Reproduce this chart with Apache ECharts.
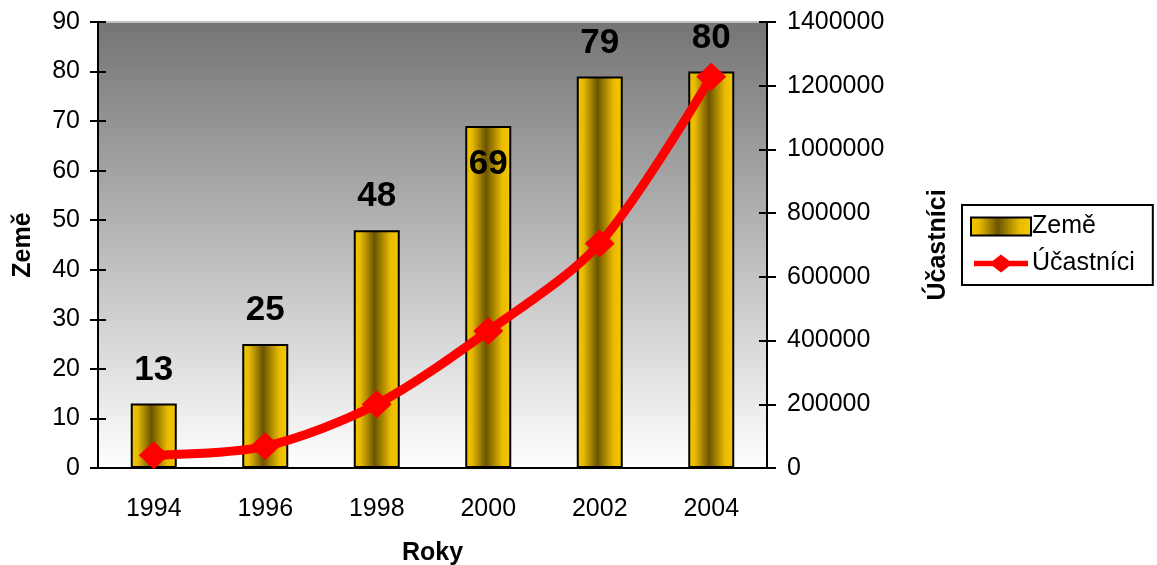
<!DOCTYPE html>
<html lang="cs">
<head>
    <meta charset="UTF-8">
    <title>Země a účastníci</title>
    <style>
        * { margin: 0; padding: 0; }
        html, body, #chart { width: 1157px; height: 565px; overflow: hidden; background: #fff; }
    </style>
</head>
<body>
    <div id="chart"></div>
    <script src="https://cdn.jsdelivr.net/npm/echarts@6/dist/echarts.min.js"></script>
    <script>
        // data
        const years = ['1994', '1996', '1998', '2000', '2002', '2004'];
        const zeme = [13, 25, 48, 69, 79, 80];
        const ucastnici = [40000, 68000, 200000, 430000, 705000, 1228000];
        const leftTicks = { min: 0, max: 90, interval: 10 };
        const rightTicks = { min: 0, max: 1400000, interval: 200000 };

        const font = 'Liberation Sans, Arial, sans-serif';

        const barFill = new echarts.graphic.LinearGradient(0, 0, 1, 0, [
            { offset: 0, color: '#f6c900' },
            { offset: 0.15, color: '#e6b900' },
            { offset: 0.45, color: '#6b5400' },
            { offset: 0.8, color: '#e8bb00' },
            { offset: 1, color: '#f6c900' }
        ]);

        const tickStyle = { color: '#000', width: 2 };
        const labelTxt = { fontFamily: font, fontSize: 25, color: '#000' };
        const nameTxt = { fontFamily: font, fontSize: 25, fontWeight: 'bold', color: '#000' };
        // legend icon for the line: thick stroke with a diamond in the middle
        const lineIcon = 'path://M0,7 L21,7 L30,0 L39,7 L60,7 L60,13 L39,13 L30,20 L21,13 L0,13 Z';

        let chart = echarts.init(document.getElementById('chart'));
        chart.setOption({
            animation: false,
            textStyle: { fontFamily: font },
            grid: {
                left: 98, right: 390, top: 22, bottom: 97,
                outerBoundsMode: 'none',
                containLabel: false,
                show: true,
                borderColor: '#c0c0c0',
                borderWidth: 2,
                backgroundColor: {
                    type: 'linear', x: 0, y: 0, x2: 0, y2: 1,
                    colorStops: [
                        { offset: 0, color: '#747474' },
                        { offset: 1, color: '#ffffff' }
                    ]
                }
            },
            legend: {
                orient: 'vertical',
                left: 962, top: 205,
                padding: [9, 18, 9, 8],
                itemGap: 12,
                itemWidth: 60, itemHeight: 18,
                borderColor: '#000', borderWidth: 2,
                backgroundColor: '#fff',
                textStyle: { fontFamily: font, fontSize: 25, color: '#000', padding: [0, 0, 0, -4] },
                data: [
                    { name: 'Země', icon: 'rect' },
                    { name: 'Účastníci', icon: lineIcon, itemStyle: { borderWidth: 0 } }
                ]
            },
            xAxis: [{
                type: 'category',
                data: years,
                name: 'Roky',
                nameLocation: 'middle',
                nameGap: 73,
                nameTextStyle: nameTxt,
                axisLine: { lineStyle: { color: '#000', width: 2 } },
                axisTick: { length: 9, lineStyle: tickStyle },
                axisLabel: Object.assign({ margin: 29 }, labelTxt)
            }, {
                type: 'category',
                data: years,
                position: 'bottom',
                axisLine: { show: false },
                axisTick: { inside: true, length: 9, lineStyle: tickStyle },
                axisLabel: { show: false }
            }],
            yAxis: [{
                type: 'value',
                min: leftTicks.min, max: leftTicks.max, interval: leftTicks.interval,
                name: 'Země',
                nameLocation: 'middle',
                nameGap: 62,
                nameTextStyle: nameTxt,
                axisLine: { show: true, lineStyle: { color: '#000', width: 2 } },
                axisTick: { show: true, length: 8, lineStyle: tickStyle },
                axisLabel: Object.assign({ margin: 18 }, labelTxt),
                splitLine: { show: false }
            }, {
                type: 'value',
                position: 'right',
                min: rightTicks.min, max: rightTicks.max, interval: rightTicks.interval,
                name: 'Účastníci',
                nameLocation: 'middle',
                nameGap: 159,
                nameRotate: 90,
                nameTextStyle: nameTxt,
                axisLine: { show: true, lineStyle: { color: '#000', width: 2 } },
                axisTick: { show: true, length: 9, lineStyle: tickStyle },
                axisLabel: Object.assign({ margin: 20, formatter: v => String(v) }, labelTxt),
                splitLine: { show: false }
            }, {
                type: 'value',
                position: 'left',
                min: leftTicks.min, max: leftTicks.max, interval: leftTicks.interval,
                axisLine: { show: false },
                axisTick: { show: true, inside: true, length: 8, lineStyle: tickStyle },
                axisLabel: { show: false },
                splitLine: { show: false }
            }, {
                type: 'value',
                position: 'right',
                min: rightTicks.min, max: rightTicks.max, interval: rightTicks.interval,
                axisLine: { show: false },
                axisTick: { show: true, inside: true, length: 8, lineStyle: tickStyle },
                axisLabel: { show: false },
                splitLine: { show: false }
            }],
            series: [{
                name: 'Země',
                type: 'bar',
                yAxisIndex: 0,
                barWidth: 46,
                itemStyle: { color: barFill, borderColor: '#000', borderWidth: 2 },
                label: {
                    show: true,
                    position: 'top',
                    distance: 16,
                    fontFamily: font,
                    fontSize: 35,
                    fontWeight: 'bold',
                    color: '#000'
                },
                data: zeme.map((v, i) => i === 3
                    ? { value: v, label: { position: 'insideTop', distance: 21 } }
                    : v)
            }, {
                name: 'Účastníci',
                type: 'line',
                yAxisIndex: 1,
                smooth: 0.3,
                symbol: 'diamond',
                symbolSize: [30, 28],
                color: '#ff0000',
                lineStyle: { color: '#ff0000', width: 9 },
                itemStyle: { color: '#ff0000' },
                data: ucastnici
            }]
        });
    </script>
</body>
</html>
